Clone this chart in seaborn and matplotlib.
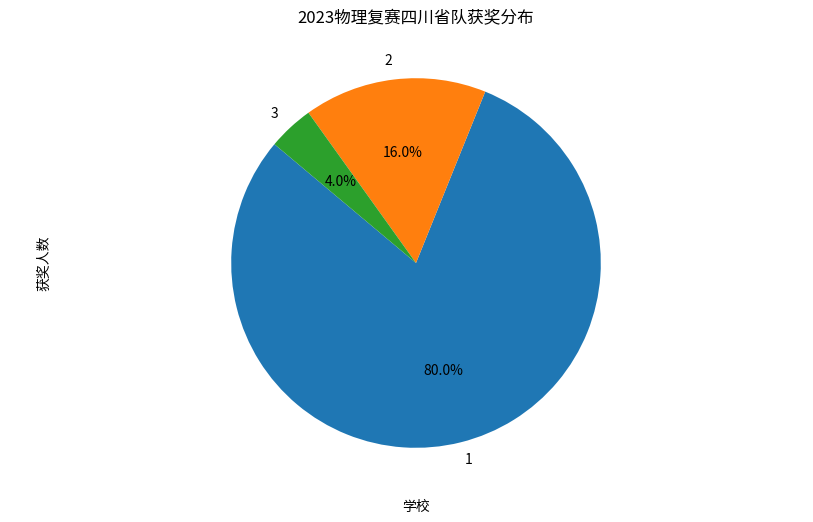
import matplotlib
matplotlib.use("Agg")
import matplotlib.pyplot as plt
import seaborn as sns

schools = ["1", "2", "3"]
counts = [20, 4, 1]

plt.rcParams['font.family'] = ['Noto Sans CJK SC', 'DejaVu Sans']
plt.rcParams['axes.unicode_minus'] = False

colors = sns.color_palette("tab10", 3)
W, H = 813, 522
fig = plt.figure(figsize=(W / 100, H / 100), dpi=100)
# axes box in pixels: left 57, right 775, top 32, bottom 494
ax = fig.add_axes([57 / W, 1 - 494 / H, (775 - 57) / W, (494 - 32) / H])
ax.pie(counts, labels=schools, autopct='%1.1f%%', startangle=140, colors=colors,
       wedgeprops={'linewidth': 0, 'edgecolor': 'none'},
       textprops={'fontsize': 10})
ax.set_ylim(-1.25, 1.25)
ax.set_aspect('equal', adjustable='datalim')
ax.set_title("2023物理复赛四川省队获奖分布", fontsize=12)
ax.set_xlabel("学校", fontsize=10)
ax.set_ylabel("获奖人数", fontsize=10)
fig.savefig("out.png", dpi=100)
